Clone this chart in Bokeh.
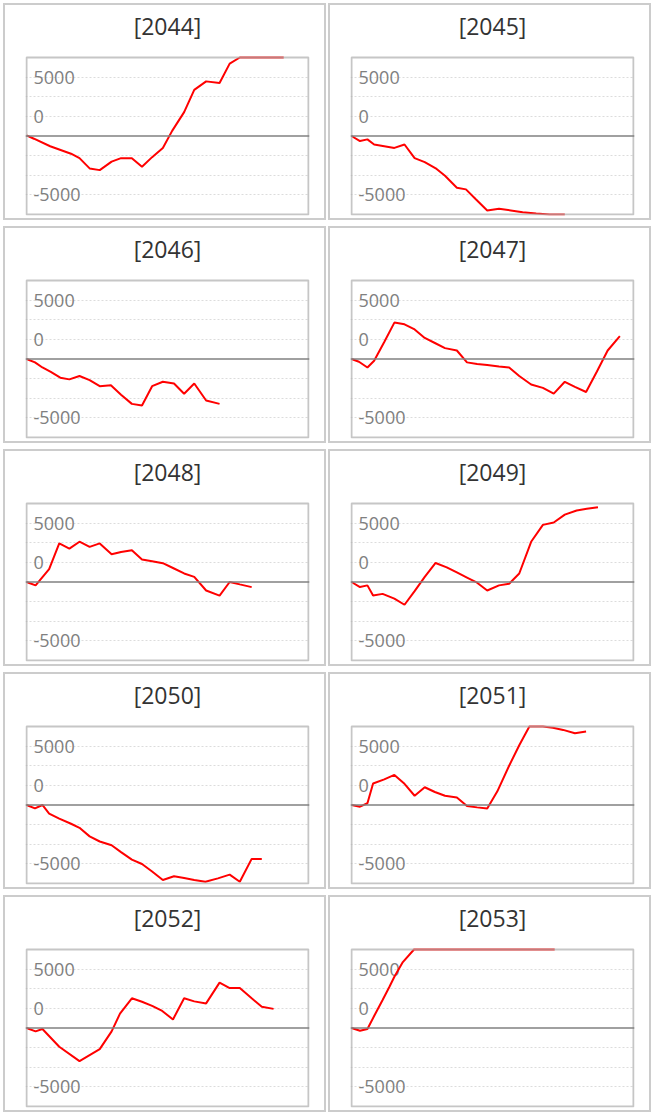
from bokeh.plotting import figure
from bokeh.models import GridPlot, Span, FixedTicker, Range1d
from bokeh.embed import file_html
from bokeh.resources import INLINE
from bokeh.core.properties import value

years = ["2044", "2045", "2046", "2047", "2048", "2049", "2050", "2051", "2052", "2053"]

x_2044 = [0, 0.72, 2.29, 4.31, 5.13, 6.11, 7.09, 8.24, 9.15, 10.2, 11.18, 12.16, 13.2, 14.1, 15.26, 16.24, 17.39, 18.69, 19.67, 20.65, 24.9]
y_2044 = [58, -232, -870, -1507, -1884, -2754, -2899, -2174, -1884, -1884, -2609, -1797, -1014, 435, 2029, 3913, 4638, 4493, 6145, 6667, 6667]

x_2045 = [0, 0.82, 1.54, 2.19, 3.17, 4.15, 5.13, 6.11, 7.09, 8.24, 9.05, 10.2, 11.08, 12.06, 13.14, 14.28, 15.42, 16.57, 17.88, 19.18, 20.65]
y_2045 = [0, -433, -289, -722, -866, -1011, -722, -1877, -2224, -2802, -3380, -4390, -4535, -5400, -6325, -6181, -6325, -6470, -6585, -6667, -6667]

x_2046 = [0, 0.82, 1.54, 2.35, 3.27, 4.15, 5.13, 6.11, 7.09, 8.17, 9.15, 10.2, 11.18, 12.16, 13.2, 14.28, 15.26, 16.24, 17.39, 18.69]
y_2046 = [0, -289, -722, -1098, -1588, -1733, -1444, -1790, -2311, -2224, -3033, -3813, -3957, -2311, -1935, -2080, -2947, -2080, -3524, -3813]

x_2047 = [0, 0.72, 1.54, 2.19, 3.17, 4.15, 5.13, 6.11, 7.09, 8.07, 9.05, 10.2, 11.18, 12.16, 13.14, 14.28, 15.26, 16.24, 17.39, 18.53, 19.58, 20.65, 21.63, 22.71, 23.76, 24.8, 25.98]
y_2047 = [0, -231, -722, -144, 1444, 3091, 2946, 2513, 1790, 1358, 924, 722, -289, -433, -520, -635, -722, -1444, -2166, -2455, -2946, -1935, -2369, -2802, -1069, 722, 1935]

x_2048 = [0, 0.88, 2.19, 3.17, 4.15, 5.13, 6.11, 7.09, 8.24, 9.15, 10.2, 11.18, 12.16, 13.2, 14.18, 15.26, 16.24, 17.39, 18.69, 19.67, 20.65, 21.8]
y_2048 = [0, -290, 1101, 3275, 2840, 3420, 2985, 3275, 2348, 2550, 2696, 1913, 1768, 1594, 1188, 725, 435, -725, -1159, 0, -203, -435]

x_2049 = [0, 0.82, 1.54, 2.09, 3.01, 4.15, 5.13, 6.11, 7.09, 8.14, 9.22, 10.2, 11.18, 12.16, 13.14, 14.28, 15.26, 16.24, 17.39, 18.53, 19.58, 20.65, 21.8, 22.78, 23.86]
y_2049 = [0, -433, -289, -1156, -1011, -1415, -1935, -780, 433, 1617, 1242, 809, 376, -58, -722, -289, -144, 722, 3413, 4852, 5056, 5719, 6066, 6211, 6355]

x_2050 = [0, 0.82, 1.54, 2.19, 3.17, 4.31, 5.13, 6.11, 7.09, 8.24, 9.15, 10.2, 11.18, 12.16, 13.2, 14.28, 15.26, 16.24, 17.32, 18.53, 19.67, 20.65, 21.8, 22.78]
y_2050 = [0, -290, 0, -725, -1159, -1594, -1942, -2667, -3101, -3420, -4000, -4638, -5014, -5652, -6377, -6058, -6203, -6377, -6522, -6232, -5913, -6522, -4580, -4580]

x_2051 = [0, 0.82, 1.54, 2.09, 3.17, 4.15, 5.13, 6.11, 7.09, 8.07, 9.05, 10.2, 11.18, 12.16, 13.14, 14.12, 15.26, 16.24, 17.22, 18.53, 19.5, 20.49, 21.63, 22.71]
y_2051 = [0, -145, 145, 1826, 2174, 2551, 1797, 783, 1507, 1101, 783, 638, -87, -203, -290, 1159, 3333, 5072, 6667, 6667, 6551, 6377, 6087, 6232]

x_2052 = [0, 0.88, 1.54, 3.17, 5.13, 7.09, 8.24, 9.05, 10.2, 11.18, 12.16, 13.14, 14.18, 15.26, 16.24, 17.39, 18.69, 19.67, 20.65, 21.8, 22.78, 23.92]
y_2052 = [0, -290, -87, -1594, -2812, -1797, -290, 1217, 2522, 2232, 1884, 1449, 725, 2522, 2261, 2087, 3855, 3391, 3391, 2522, 1797, 1623]

x_2053 = [0, 0.82, 1.54, 2.19, 3.01, 3.66, 4.15, 4.97, 6.05, 19.67]
y_2053 = [0, -232, -87, 1014, 2377, 3478, 4348, 5594, 6667, 6667]

xs = [x_2044, x_2045, x_2046, x_2047, x_2048, x_2049, x_2050, x_2051, x_2052, x_2053]
ys = [y_2044, y_2045, y_2046, y_2047, y_2048, y_2049, y_2050, y_2051, y_2052, y_2053]

ytick_labels = ["5000", "0", "-5000"]
ytick_values = [5000, 5000 / 3, -5000]
grid_values = [-5000, -10000 / 3, -5000 / 3, 5000 / 3, 10000 / 3, 5000]
x_max = 27.3
y_lim = 20000 / 3

# pixel geometry of each panel (canvas inside its 2px border is 319 x 213)
plot_w_px, plot_h_px = 278, 154
top_px, bottom_px, left_px, right_px = 51, 7, 20, 19
ux = x_max / plot_w_px          # data units per pixel (x)
uy = 2 * y_lim / plot_h_px      # data units per pixel (y)
title_y = y_lim + 31 * uy

children = []
for i, yr in enumerate(years):
    p = figure(width=323, height=217, output_backend="svg", toolbar_location=None,
               title=None,
               x_range=Range1d(-ux, x_max + ux),
               y_range=Range1d(-y_lim - uy, y_lim + top_px * uy),
               min_border_left=left_px, min_border_right=right_px,
               min_border_top=0, min_border_bottom=bottom_px,
               styles={"border": "2px solid #cccccc"})
    p.xaxis.visible = False
    p.yaxis.visible = False
    p.xgrid.visible = False
    p.ygrid.ticker = FixedTicker(ticks=grid_values)
    p.ygrid.grid_line_color = "#dcdcdc"
    p.ygrid.grid_line_dash = "2 2"
    p.ygrid.grid_line_width = 1
    p.outline_line_color = None
    p.background_fill_color = "white"
    p.border_fill_color = "white"
    p.add_layout(Span(location=0, dimension="width", line_color="#808080", line_width=1.5))
    p.text(x=[0, 0, 0], y=ytick_values, text=ytick_labels, x_offset=7,
           text_baseline="middle", text_align="left",
           text_font=value("Open Sans"), text_font_size="18px", text_color="#808080")
    p.line(xs[i], ys[i], line_color="#ff0000", line_width=2)
    p.quad(left=[0], right=[x_max], bottom=[-y_lim], top=[y_lim],
           fill_color=None, line_color="#aeaeae", line_alpha=0.7, line_width=2)
    p.text(x=[x_max / 2], y=[title_y], text=["[" + yr + "]"],
           text_align="center", text_baseline="middle",
           text_font=value("Open Sans"), text_font_size="23px", text_color="#333333")
    children.append((p, i // 2, i % 2))

grid = GridPlot(children=children, spacing=(6, 2), toolbar_location=None,
                margin=(3, 0, 0, 3))

open("out.html", "w").write(file_html(grid, INLINE))
